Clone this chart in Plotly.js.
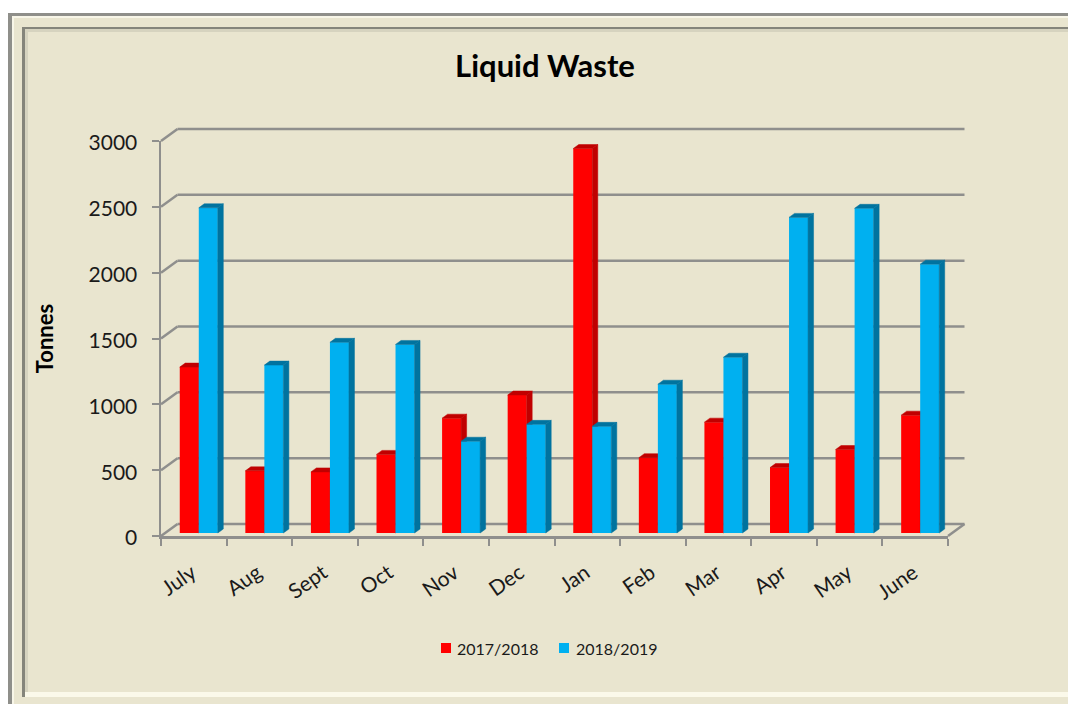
<!DOCTYPE html>
<html>
<head>
<meta charset="utf-8">
<script src="https://cdn.plot.ly/plotly-3.0.1.min.js"></script>
<style>
html,body{margin:0;padding:0;background:#fff;overflow:hidden}
#wrap{position:relative;width:1068px;height:704px;overflow:hidden}
.f{position:absolute}
#chart{position:absolute;left:0;top:0;width:1068px;height:704px}
</style>
</head>
<body>
<div id="wrap">
  <div class="f" style="left:8px;top:13px;right:0;bottom:0;background:#e9e5cf"></div>
  <div class="f" style="left:8px;top:13px;right:0;height:3px;background:#8f8f8a"></div>
  <div class="f" style="left:8px;top:13px;width:4px;bottom:0;background:#8f8f8a"></div>
  <div class="f" style="left:12px;top:16px;right:0;height:2px;background:#f8f6e8"></div>
  <div class="f" style="left:12px;top:16px;width:2px;bottom:0;background:#f8f6e8"></div>
  <div class="f" style="left:22px;top:27px;right:0;height:2px;background:#85857b"></div>
  <div class="f" style="left:24px;top:29px;right:0;height:3px;background:#d6d3bf"></div>
  <div class="f" style="left:22px;top:27px;width:3px;height:670px;background:#85857b"></div>
  <div class="f" style="left:25px;top:29px;width:3px;height:664px;background:#d6d3bf"></div>
  <div class="f" style="left:25px;top:692px;right:0;height:5px;background:#fbf9ea"></div>
  <div id="chart"></div>
</div>
<script>
var months = ["July","Aug","Sept","Oct","Nov","Dec","Jan","Feb","Mar","Apr","May","June"];
var season1 = [1260,472,464,597,872,1048,2920,572,842,497,634,895];
var season2 = [2470,1275,1448,1432,697,825,810,1130,1335,2397,2466,2042];
var yTicks = [0,500,1000,1500,2000,2500,3000];
var seriesNames = ["2017/2018","2018/2019"];
var red = "#ff0000", blue = "#00b0f0";

var idx = months.map(function(_,i){return i;});
var minorTicks = idx.map(function(i){return i-0.5;}).concat([11.5]);

// oblique-projection offsets in data units
var backDx = 16.5/65.58, backDy = 12*3000/394.5;
var barDx = 5.5/65.58, barDy = 4*3000/394.5;
var barW = 0.29, barShift = 0.076, barBase = 3*3000/394.5;

var gridColor = "#8f8f8d";
var shapes = [];
// paper fractions so the back wall can rise past the axis ranges without clipping
function px(x){return (x+0.5)/12;}
function py(y){return y/3000;}
function seg(x0,y0,x1,y1){
  shapes.push({type:"line",xref:"paper",yref:"paper",layer:"below",x0:px(x0),y0:py(y0),x1:px(x1),y1:py(y1),
    line:{color:gridColor,width:2.5}});
}
yTicks.forEach(function(t){
  seg(-0.5+backDx,t+backDy,11.5+backDx,t+backDy);
  seg(-0.5,t,-0.5+backDx,t+backDy);
});
seg(11.5,0,11.5+backDx,backDy);

function faces(values,leftOffset,color,axX,axY){
  var sx=[],sy=[],tx=[],ty=[];
  values.forEach(function(v,i){
    var l=i+leftOffset, r=l+barW, b=barBase, h=barBase+v;
    sx.push(r,r+barDx,r+barDx,r,r,null);
    sy.push(b,b+barDy,h+barDy,h,b,null);
    tx.push(l,l+barDx,r+barDx,r,l,null);
    ty.push(h,h+barDy,h+barDy,h,h,null);
  });
  function tr(x,y){return {type:"scatter",mode:"lines",x:x,y:y,fill:"toself",fillcolor:color,
    line:{color:color,width:0.5},hoverinfo:"skip",showlegend:false,xaxis:axX,yaxis:axY};}
  return [tr(sx,sy),tr(tx,ty)];
}
function bars(values,name,color,off,axX,axY){
  return {type:"bar",x:idx,y:values,base:barBase,name:name,width:barW,offset:off,showlegend:false,
    marker:{color:color,line:{width:0}},xaxis:axX,yaxis:axY,hoverinfo:"skip"};
}
var redOff = barShift-barW, blueOff = barShift;
// the empty trace keeps the visible axes attached to the plot
var traces = [{type:"scatter",mode:"none",x:idx,y:season1,showlegend:false,hoverinfo:"skip",xaxis:"x",yaxis:"y"},
    bars(season1,seriesNames[0],red,redOff,"x2","y2")]
  .concat(faces(season1,redOff,"#c00000","x2","y2"))
  .concat([bars(season2,seriesNames[1],blue,blueOff,"x3","y3")])
  .concat(faces(season2,blueOff,"#00739f","x3","y3"));

// legend keys sit tight against their labels
function key(x,color){
  shapes.push({type:"rect",xref:"paper",yref:"paper",layer:"above",xsizemode:"pixel",ysizemode:"pixel",
    xanchor:(x-161)/787,yanchor:(536-648)/395,x0:0,x1:10,y0:-5,y1:5,fillcolor:color,line:{width:0}});
}
key(441,red); key(559,blue);
function keyLabel(x,text){
  return {text:text,xref:"paper",yref:"paper",x:(x-161)/787,y:(536-648)/395,xanchor:"left",yanchor:"middle",
    showarrow:false,font:{size:16,family:font,color:ink},xshift:0,borderpad:0};
}

var font = "Lato, 'Open Sans', sans-serif", ink = "#1a1a1a";
var hiddenX = {range:[-0.5,11.5],overlaying:"x",visible:false,fixedrange:true};
var hiddenY = {range:[0,3000],overlaying:"y",visible:false,fixedrange:true};

var layout = {
  width:1068,height:704,
  margin:{l:161,r:120,t:141,b:168,pad:0},
  paper_bgcolor:"rgba(0,0,0,0)",plot_bgcolor:"rgba(0,0,0,0)",
  font:{family:font,color:ink},
  title:{text:"<b>Liquid Waste</b>",font:{family:font,size:31,color:"#000"},
    x:545/1068,xanchor:"center",y:1-66/704,yanchor:"middle"},
  barmode:"overlay",
  xaxis:{range:[-0.5,11.5],tickmode:"array",tickvals:idx,ticktext:months,ticks:"",
    tickangle:-35,tickfont:{size:21,family:font,color:ink},ticklabelstandoff:14,ticklabelshift:-2,
    showgrid:false,zeroline:false,showline:true,linecolor:gridColor,linewidth:2.5,fixedrange:true,
    minor:{tickmode:"array",tickvals:minorTicks,ticks:"outside",ticklen:7,tickwidth:2,tickcolor:gridColor,showgrid:false}},
  yaxis:{range:[0,3000],tickmode:"array",tickvals:yTicks,ticks:"outside",ticklen:7,tickwidth:2,
    tickcolor:gridColor,tickfont:{size:21,family:font,color:ink},ticklabelstandoff:10,ticklabelshift:2,
    showgrid:false,zeroline:false,showline:true,linecolor:gridColor,linewidth:2.5,fixedrange:true,
    title:{text:"<b>Tonnes</b>",font:{size:22,family:font,color:"#000"},standoff:29}},
  xaxis2:hiddenX,yaxis2:hiddenY,
  xaxis3:hiddenX,yaxis3:hiddenY,
  shapes:shapes,
  annotations:[keyLabel(456,seriesNames[0]),keyLabel(575,seriesNames[1])],
  showlegend:false
};
Plotly.newPlot("chart",traces,layout,{displayModeBar:false,staticPlot:true});
</script>
</body>
</html>
